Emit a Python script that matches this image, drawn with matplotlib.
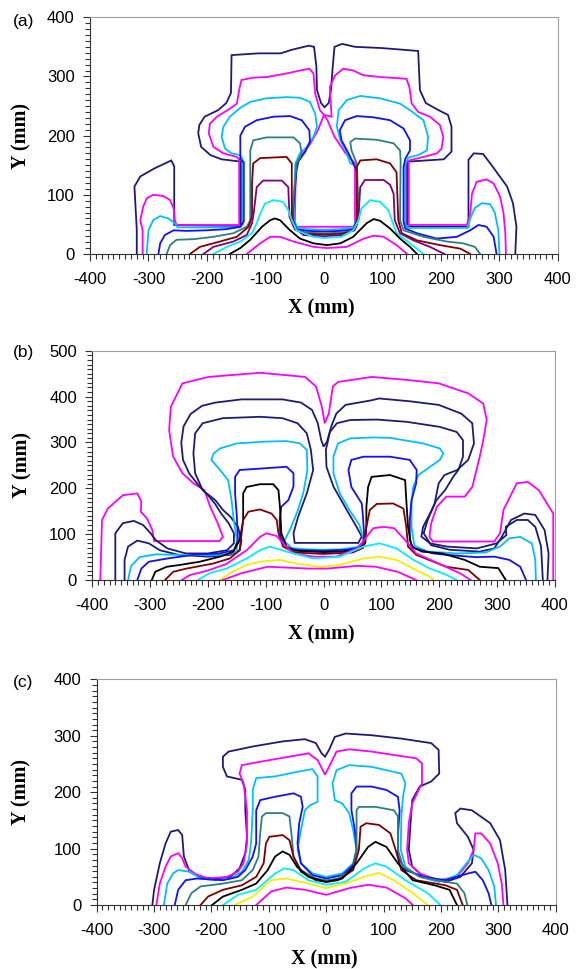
import matplotlib
matplotlib.use('Agg')
import matplotlib.pyplot as plt
from matplotlib.ticker import MultipleLocator

plt.rcParams['axes.unicode_minus'] = False

NAVY = '#1c1c78'
MAGENTA = '#ff00ff'
SKY = '#00bfff'
BLUE = '#1010ff'
TEAL = '#2e7f7f'
BROWN = '#800000'
PURPLE = '#800080'
CYAN = '#00eeff'
BLACK = '#000000'
YELLOW = '#f0f000'

# ---- panel (a) isolines, (x mm, y mm) ----
a_navy = [(-320, 0), (-320, 41), (-324, 114), (-314, 131), (-289, 145), (-261, 158), (-256, 148),
          (-256, 49), (-142, 47), (-142, 156), (-175, 160), (-194, 167), (-210, 181), (-215, 204),
          (-213, 218), (-204, 232), (-181, 243), (-167, 255), (-159, 272), (-158, 336), (-112, 339),
          (-74, 339), (-55, 345), (-26, 352), (-17, 350), (-13, 317), (-12, 277), (-5, 255), (1, 248),
          (8, 255), (12, 277), (15, 317), (18, 350), (31, 355), (53, 350), (98, 348), (136, 345),
          (161, 343), (164, 277), (174, 255), (196, 243), (212, 235), (218, 215), (218, 173), (205, 160),
          (142, 156), (142, 46), (247, 46), (247, 159), (256, 170), (272, 169), (288, 148), (313, 114),
          (323, 86), (329, 46), (327, 0)]
a_magenta = [(-310, 0), (-310, 40), (-314, 57), (-309, 80), (-303, 94), (-292, 100), (-275, 98),
             (-263, 91), (-257, 77), (-255, 57), (-252, 49), (-145, 49), (-145, 160), (-149, 164),
             (-172, 170), (-189, 181), (-197, 204), (-195, 220), (-183, 232), (-160, 246), (-149, 254),
             (-144, 282), (-141, 294), (-121, 298), (-98, 299), (-64, 305), (-41, 310), (-25, 313),
             (-18, 305), (-15, 271), (-7, 243), (0, 235), (-10, 210), (-23, 187), (-38, 167), (-48, 153),
             (-50, 46), (53, 46), (53, 153), (37, 170), (18, 198), (6, 226), (0, 235), (13, 232),
             (10, 282), (19, 302), (33, 313), (50, 310), (67, 302), (96, 299), (141, 296), (146, 282),
             (150, 254), (161, 240), (181, 232), (198, 218), (204, 198), (201, 178), (193, 170),
             (170, 164), (145, 158), (145, 49), (244, 49), (250, 68), (253, 102), (261, 122), (278, 126),
             (290, 119), (301, 97), (307, 68), (310, 35), (311, 0)]
a_sky = [(-303, 0), (-300, 40), (-292, 57), (-280, 64), (-266, 60), (-255, 52), (-250, 45), (-145, 45),
         (-139, 50), (-139, 160), (-143, 167), (-158, 170), (-169, 178), (-175, 198), (-172, 215),
         (-161, 232), (-143, 247), (-126, 257), (-98, 263), (-64, 265), (-41, 264), (-24, 257),
         (-15, 237), (-12, 215), (-18, 198), (-29, 181), (-41, 170), (-49, 153), (-52, 60), (-46, 45),
         (-30, 42), (0, 41), (30, 42), (50, 45), (56, 60), (55, 150), (45, 153), (39, 170), (28, 192),
         (22, 215), (25, 243), (39, 260), (62, 267), (96, 263), (130, 254), (147, 243), (170, 226),
         (178, 198), (176, 175), (161, 167), (144, 163), (139, 150), (139, 50), (145, 44), (245, 44),
         (250, 60), (258, 78), (270, 86), (284, 84), (292, 70), (298, 40), (300, 0)]
a_blue = [(-283, 0), (-280, 18), (-272, 32), (-257, 40), (-235, 39), (-200, 40), (-166, 42), (-143, 46),
          (-137, 55), (-137, 155), (-143, 160), (-143, 200), (-135, 215), (-115, 226), (-86, 232),
          (-58, 233), (-38, 226), (-25, 209), (-24, 190), (-32, 173), (-44, 156), (-47, 140), (-54, 60),
          (-47, 42), (-30, 39), (0, 38), (30, 39), (50, 42), (58, 60), (56, 140), (50, 153), (42, 170),
          (30, 192), (27, 209), (36, 226), (56, 233), (84, 231), (113, 226), (136, 212), (147, 192),
          (147, 175), (139, 161), (136, 147), (136, 55), (139, 43), (159, 35), (193, 26), (227, 29),
          (250, 40), (264, 49), (278, 46), (290, 29), (295, 0)]
a_teal = [(-269, 0), (-263, 15), (-252, 24), (-223, 25), (-189, 29), (-155, 35), (-132, 46), (-126, 57),
          (-126, 175), (-121, 192), (-98, 197), (-52, 197), (-41, 187), (-38, 170), (-47, 153),
          (-55, 60), (-48, 40), (-30, 36), (0, 35), (30, 36), (52, 40), (60, 60), (56, 153), (47, 175),
          (45, 189), (53, 195), (90, 193), (119, 187), (130, 175), (131, 158), (130, 57), (136, 40),
          (170, 29), (210, 21), (238, 18), (258, 12), (267, 0)]
a_brown = [(-229, 0), (-212, 12), (-178, 21), (-149, 29), (-129, 46), (-123, 63), (-123, 119),
           (-121, 153), (-109, 162), (-64, 164), (-55, 153), (-55, 68), (-50, 42), (-30, 34), (0, 33),
           (30, 34), (52, 40), (56, 57), (56, 147), (62, 158), (90, 160), (113, 153), (124, 138),
           (127, 57), (133, 35), (159, 23), (198, 15), (233, 9), (250, 0)]
a_purple = [(-206, 0), (-189, 12), (-155, 21), (-132, 32), (-123, 52), (-120, 70), (-115, 113),
            (-104, 124), (-72, 124), (-61, 113), (-59, 63), (-52, 46), (-35, 32), (0, 30), (35, 32),
            (55, 45), (59, 63), (62, 113), (70, 125), (102, 125), (113, 117), (119, 102), (121, 57),
            (130, 35), (153, 23), (181, 12), (206, 0)]
a_cyan = [(-189, 0), (-166, 12), (-143, 21), (-123, 35), (-115, 52), (-109, 68), (-101, 85), (-86, 91),
          (-70, 88), (-61, 74), (-55, 57), (-47, 40), (-18, 29), (0, 27), (30, 29), (50, 40), (59, 57),
          (64, 77), (79, 91), (96, 88), (110, 74), (116, 57), (124, 35), (147, 18), (170, 0)]
a_black = [(-161, 0), (-143, 10), (-126, 24), (-106, 46), (-92, 57), (-84, 60), (-75, 57), (-58, 40),
           (-41, 26), (-18, 18), (5, 15), (28, 18), (50, 29), (73, 52), (85, 59), (96, 56), (113, 43),
           (130, 26), (147, 12), (159, 0)]
a_mag_in = [(-132, 0), (-109, 18), (-92, 29), (-75, 29), (-52, 21), (-18, 12), (5, 10), (39, 12),
            (68, 26), (85, 31), (102, 29), (124, 15), (142, 0)]

# ---- panel (b) ----
b_magenta = [(-386, 0), (-383, 131), (-373, 156), (-347, 185), (-322, 189), (-315, 171), (-316, 149),
             (-305, 134), (-296, 109), (-293, 85), (-180, 85), (-174, 94), (-183, 124), (-196, 160),
             (-206, 196), (-225, 211), (-244, 233), (-260, 269), (-267, 327), (-264, 378), (-244, 429),
             (-199, 443), (-110, 452), (-32, 443), (-13, 422), (-3, 378), (2, 342), (9, 363), (16, 422),
             (25, 432), (83, 443), (148, 436), (199, 429), (250, 407), (276, 385), (282, 349), (276, 305),
             (270, 269), (263, 233), (257, 203), (244, 182), (212, 182), (196, 160), (186, 124),
             (183, 94), (189, 84), (295, 84), (305, 102), (311, 153), (334, 211), (353, 214), (372, 196),
             (397, 145), (397, 0)]
b_navy1 = [(-360, 0), (-360, 102), (-347, 124), (-328, 129), (-312, 120), (-299, 102), (-290, 87),
           (-270, 69), (-238, 58), (-200, 58), (-167, 65), (-155, 80), (-155, 102), (-164, 124),
           (-177, 145), (-188, 167), (-200, 185), (-215, 205), (-232, 232), (-243, 262), (-246, 300),
           (-242, 335), (-230, 362), (-210, 380), (-187, 387), (-142, 394), (-71, 394), (-39, 387),
           (-20, 371), (-10, 342), (-4, 305), (0, 291), (6, 302), (13, 334), (22, 363), (38, 382),
           (83, 392), (96, 396), (148, 390), (199, 382), (238, 363), (257, 342), (260, 298), (250, 262),
           (231, 240), (209, 229), (199, 211), (192, 167), (180, 131), (173, 102), (186, 76), (218, 66),
           (270, 62), (295, 69), (308, 94), (324, 131), (347, 145), (366, 142), (382, 109), (389, 58),
           (387, 0)]
b_navy2 = [(-344, 0), (-344, 44), (-338, 73), (-322, 86), (-302, 80), (-283, 65), (-251, 55), (-200, 51),
           (-161, 55), (-145, 65), (-142, 87), (-148, 116), (-161, 138), (-174, 153), (-187, 174),
           (-209, 196), (-222, 233), (-225, 276), (-222, 320), (-209, 342), (-174, 353), (-110, 356),
           (-71, 353), (-45, 342), (-29, 320), (-22, 284), (-18, 240), (-29, 189), (-44, 138), (-52, 102),
           (-50, 81), (60, 81), (66, 95), (57, 116), (40, 153), (17, 204), (5, 247), (4, 284), (11, 323),
           (23, 342), (46, 349), (92, 350), (144, 345), (201, 334), (230, 323), (241, 305), (241, 269),
           (233, 240), (224, 225), (210, 196), (195, 174), (184, 145), (172, 116), (169, 95), (184, 80),
           (213, 73), (265, 69), (299, 80), (316, 98), (315, 116), (334, 131), (353, 131), (366, 116),
           (376, 73), (379, 0)]
b_sky = [(-338, 0), (-333, 30), (-318, 50), (-290, 56), (-250, 55), (-200, 54), (-165, 56), (-150, 62),
         (-150, 87), (-156, 138), (-159, 174), (-165, 218), (-179, 240), (-194, 262), (-190, 276),
         (-179, 287), (-150, 298), (-99, 302), (-64, 303), (-41, 298), (-29, 284), (-28, 240),
         (-35, 190), (-45, 150), (-58, 110), (-68, 85), (-55, 70), (-30, 67), (0, 66), (30, 67),
         (58, 72), (70, 85), (62, 120), (45, 152), (28, 189), (17, 233), (17, 269), (25, 298), (46, 309),
         (86, 311), (115, 310), (172, 298), (201, 287), (207, 276), (201, 262), (184, 247), (164, 229),
         (155, 204), (152, 167), (152, 116), (157, 75), (180, 62), (230, 58), (280, 60), (305, 73),
         (321, 91), (340, 94), (360, 80), (366, 44), (367, 0)]
b_blue = [(-322, 0), (-315, 25), (-302, 40), (-270, 47), (-225, 55), (-180, 58), (-155, 65), (-148, 87),
          (-150, 140), (-153, 189), (-153, 225), (-145, 240), (-110, 243), (-64, 247), (-52, 233),
          (-52, 204), (-61, 174), (-73, 160), (-76, 131), (-75, 100), (-70, 80), (-60, 68), (-40, 65),
          (0, 64), (40, 66), (60, 70), (68, 80), (70, 100), (68, 140), (66, 167), (48, 203), (43, 240),
          (48, 262), (69, 269), (115, 269), (149, 262), (161, 240), (160, 211), (152, 174), (149, 131),
          (149, 87), (155, 70), (190, 58), (212, 55), (263, 50), (295, 51), (321, 44), (340, 29),
          (350, 0)]
b_black = [(-297, 0), (-291, 18), (-271, 29), (-248, 33), (-214, 40), (-179, 51), (-156, 62),
           (-145, 87), (-139, 130), (-139, 189), (-133, 203), (-110, 209), (-87, 209), (-78, 196),
           (-75, 153), (-73, 102), (-64, 73), (-50, 64), (-20, 62), (0, 61), (30, 62), (60, 66),
           (72, 80), (74, 120), (74, 160), (77, 203), (83, 225), (115, 229), (141, 218), (143, 174),
           (146, 116), (152, 73), (170, 62), (205, 58), (244, 44), (270, 29), (302, 26), (315, 0)]
b_brown = [(-274, 0), (-260, 18), (-237, 25), (-191, 36), (-162, 47), (-145, 65), (-139, 131),
           (-130, 149), (-110, 154), (-90, 145), (-81, 131), (-78, 102), (-70, 73), (-50, 60), (0, 57),
           (50, 60), (68, 70), (74, 116), (80, 153), (92, 166), (120, 167), (138, 156), (143, 116),
           (146, 73), (160, 55), (212, 29), (250, 22), (270, 0)]
b_mag8 = [(-245, 0), (-231, 11), (-202, 20), (-168, 35), (-133, 65), (-110, 94), (-99, 102), (-81, 96),
          (-70, 80), (-52, 58), (-18, 51), (22, 51), (60, 70), (74, 94), (86, 113), (103, 116),
          (122, 113), (141, 87), (160, 58), (199, 36), (237, 14), (254, 0)]
b_cyan = [(-217, 0), (-197, 15), (-168, 25), (-133, 47), (-110, 65), (-93, 73), (-64, 62), (-18, 47),
          (28, 51), (69, 73), (97, 80), (126, 69), (155, 44), (184, 25), (213, 11), (230, 0)]
b_yellow = [(-179, 0), (-162, 15), (-133, 33), (-110, 40), (-76, 44), (-47, 36), (-6, 29), (28, 33),
            (69, 47), (97, 51), (126, 44), (155, 25), (184, 7), (190, 0)]
b_mag_in = [(-174, 0), (-142, 15), (-97, 29), (-26, 25), (6, 25), (58, 31), (90, 29), (128, 18),
            (160, 0)]

# ---- panel (c) ----
c_navy = [(-303, 0), (-300, 27), (-290, 74), (-280, 109), (-271, 130), (-258, 133), (-251, 124),
          (-248, 86), (-238, 59), (-219, 50), (-193, 46), (-167, 50), (-151, 65), (-141, 92),
          (-138, 121), (-141, 168), (-141, 204), (-147, 222), (-173, 228), (-180, 245), (-180, 263),
          (-170, 272), (-128, 281), (-76, 290), (-37, 294), (-18, 287), (-8, 269), (-2, 263), (5, 275),
          (15, 298), (34, 304), (79, 301), (131, 295), (183, 287), (196, 275), (197, 233), (183, 219),
          (163, 210), (150, 186), (147, 145), (144, 98), (150, 68), (170, 50), (208, 41), (234, 50),
          (254, 74), (257, 98), (247, 121), (228, 145), (225, 163), (234, 171), (254, 168), (286, 145),
          (303, 115), (312, 62), (316, 0)]
c_magenta = [(-296, 0), (-290, 38), (-280, 68), (-271, 86), (-258, 92), (-251, 83), (-245, 68),
             (-228, 55), (-206, 47), (-173, 50), (-154, 59), (-144, 74), (-138, 109), (-138, 168),
             (-144, 216), (-151, 233), (-147, 248), (-115, 254), (-64, 263), (-31, 269), (-15, 257),
             (-2, 231), (8, 251), (18, 272), (40, 276), (79, 272), (157, 260), (167, 251), (167, 216),
             (150, 180), (144, 145), (141, 98), (144, 74), (163, 56), (196, 44), (228, 50), (247, 74),
             (257, 98), (260, 127), (270, 127), (286, 109), (299, 74), (306, 38), (309, 0)]
c_sky = [(-283, 0), (-277, 38), (-267, 56), (-258, 62), (-238, 59), (-219, 47), (-193, 44), (-167, 47),
         (-147, 59), (-135, 80), (-131, 109), (-128, 168), (-128, 204), (-122, 225), (-89, 228),
         (-51, 236), (-24, 241), (-15, 228), (-15, 204), (-15, 183), (-28, 177), (-37, 168), (-44, 133),
         (-50, 98), (-44, 74), (-24, 56), (0, 50), (28, 56), (47, 74), (53, 98), (47, 133), (40, 163),
         (28, 180), (15, 186), (11, 216), (18, 239), (40, 248), (79, 245), (131, 233), (138, 216),
         (134, 192), (131, 157), (130, 98), (138, 68), (163, 50), (196, 41), (228, 53), (247, 77),
         (257, 89), (270, 83), (283, 62), (293, 33), (296, 0)]
c_blue = [(-264, 0), (-258, 27), (-245, 44), (-225, 47), (-180, 44), (-154, 50), (-141, 62), (-128, 86),
          (-122, 109), (-122, 168), (-115, 186), (-89, 192), (-57, 198), (-44, 192), (-41, 174),
          (-47, 145), (-50, 109), (-44, 74), (-24, 53), (0, 47), (28, 53), (47, 71), (53, 98), (50, 133),
          (44, 168), (44, 198), (53, 210), (79, 210), (105, 204), (125, 192), (128, 168), (125, 121),
          (125, 86), (138, 62), (170, 50), (208, 44), (247, 56), (260, 59), (273, 44), (283, 21),
          (288, 0)]
c_teal = [(-245, 0), (-235, 21), (-219, 33), (-180, 38), (-147, 44), (-128, 62), (-118, 86), (-115, 127),
          (-112, 157), (-105, 163), (-76, 163), (-64, 157), (-60, 121), (-57, 86), (-44, 62), (-18, 47),
          (0, 44), (21, 47), (47, 65), (53, 98), (53, 168), (57, 174), (86, 174), (118, 168), (125, 157),
          (125, 98), (134, 68), (163, 50), (208, 41), (228, 38), (241, 21), (246, 0)]
c_brown = [(-219, 0), (-206, 15), (-180, 27), (-147, 35), (-122, 50), (-109, 74), (-105, 109), (-99, 121),
           (-76, 124), (-64, 115), (-57, 86), (-44, 59), (-18, 44), (0, 41), (21, 44), (47, 62), (57, 98),
           (60, 139), (70, 145), (92, 142), (112, 127), (121, 98), (131, 62), (157, 44), (208, 35),
           (228, 27), (238, 0)]
c_black = [(-199, 0), (-180, 15), (-147, 27), (-122, 38), (-102, 62), (-89, 86), (-76, 95), (-64, 89),
           (-51, 68), (-31, 50), (0, 41), (28, 47), (53, 74), (73, 103), (86, 112), (105, 103),
           (125, 74), (151, 44), (189, 35), (215, 27), (228, 0)]
c_cyan = [(-180, 0), (-154, 18), (-122, 27), (-89, 56), (-73, 65), (-57, 62), (-31, 44), (0, 36),
          (34, 41), (66, 65), (86, 74), (105, 68), (138, 44), (177, 21), (199, 0)]
c_yellow = [(-160, 0), (-128, 15), (-96, 44), (-70, 47), (-31, 38), (0, 30), (34, 38), (66, 50), (92, 57),
            (118, 44), (151, 21), (177, 0)]
c_mag_in = [(-122, 0), (-96, 24), (-70, 31), (-37, 27), (0, 18), (40, 30), (73, 36), (105, 31),
            (138, 12), (151, 0)]

panels = [
    ('(a)', 400, [(a_navy, NAVY), (a_magenta, MAGENTA), (a_sky, SKY), (a_blue, BLUE), (a_teal, TEAL),
                  (a_brown, BROWN), (a_purple, PURPLE), (a_cyan, CYAN), (a_black, BLACK),
                  (a_mag_in, MAGENTA)]),
    ('(b)', 500, [(b_magenta, MAGENTA), (b_navy1, NAVY), (b_navy2, NAVY), (b_sky, SKY), (b_blue, BLUE),
                  (b_black, BLACK), (b_brown, BROWN), (b_mag8, MAGENTA), (b_cyan, CYAN),
                  (b_yellow, YELLOW), (b_mag_in, MAGENTA)]),
    ('(c)', 400, [(c_navy, NAVY), (c_magenta, MAGENTA), (c_sky, SKY), (c_blue, BLUE), (c_teal, TEAL),
                  (c_brown, BROWN), (c_black, BLACK), (c_cyan, CYAN), (c_yellow, YELLOW),
                  (c_mag_in, MAGENTA)]),
]

# axes boxes in figure fractions, label offsets in axes fractions
boxes = [(0.1554, 0.7379, 0.8083, 0.2443),
         (0.1592, 0.4014, 0.7993, 0.2366),
         (0.1670, 0.0660, 0.7927, 0.2329)]
ylab_x = [-0.124, -0.130, -0.141]
xlab_y = [-0.190, -0.192, -0.198]
tag_y = [0.978, 0.636, 0.296]

fig = plt.figure(figsize=(5.79, 9.69), dpi=100)
sans = ['Liberation Sans', 'DejaVu Sans']
serif = ['Liberation Serif', 'DejaVu Serif']

for i, (tag, ymax, lines) in enumerate(panels):
    ax = fig.add_axes(boxes[i])
    for pts, col in lines:
        xs = [p[0] for p in pts]
        ys = [p[1] for p in pts]
        ax.plot(xs, ys, color=col, lw=1.3, solid_joinstyle='miter')
    ax.set_xlim(-400, 400)
    ax.set_ylim(0, ymax)
    ax.xaxis.set_major_locator(MultipleLocator(100))
    ax.xaxis.set_minor_locator(MultipleLocator(10))
    ax.yaxis.set_major_locator(MultipleLocator(100))
    ax.yaxis.set_minor_locator(MultipleLocator(10))
    ax.tick_params(which='both', direction='out', color='#333333', width=0.8)
    ax.tick_params(which='major', length=5, labelsize=12, pad=6)
    ax.tick_params(which='minor', length=3.5)
    ax.tick_params(axis='x', which='major', pad=8)
    for lab in ax.get_xticklabels() + ax.get_yticklabels():
        lab.set_family(sans)
    for s in ['top', 'right']:
        ax.spines[s].set_color('#a0a0a0')
    for s in ['left', 'bottom']:
        ax.spines[s].set_color('#333333')
    ax.set_xlabel('X (mm)', family=serif, fontweight='bold', fontsize=14.5)
    ax.set_ylabel('Y (mm)', family=serif, fontweight='bold', fontsize=14.5)
    ax.xaxis.set_label_coords(0.495, xlab_y[i])
    ax.yaxis.set_label_coords(ylab_x[i], 0.5)
    fig.text(0.022, tag_y[i], tag, family=sans, fontsize=12.5, va='center', ha='left')

fig.savefig('out.png', dpi=100)
